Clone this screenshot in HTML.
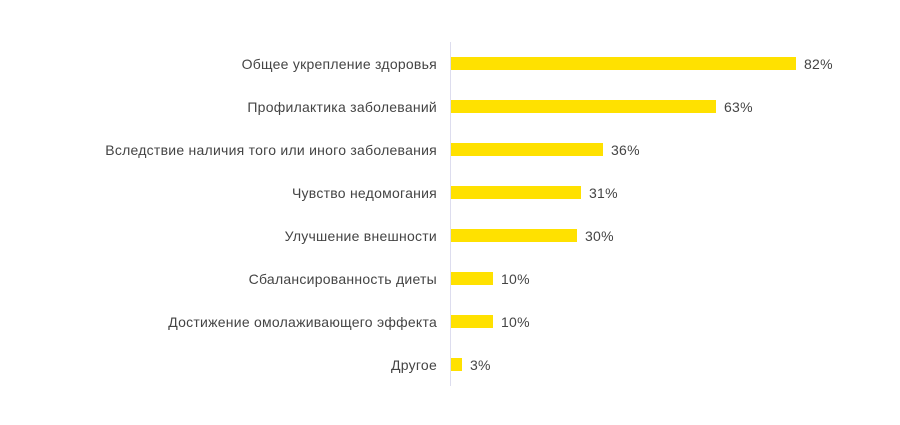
<!DOCTYPE html><html><head><meta charset="utf-8"><style>
body{margin:0;background:#fff;width:900px;height:420px;overflow:hidden;font-family:"Liberation Sans",sans-serif}
</style></head><body>
<svg width="900" height="420" xmlns="http://www.w3.org/2000/svg" font-family="Liberation Sans, sans-serif" font-size="14" letter-spacing="0.25" fill="#444">
<line x1="450.5" y1="42" x2="450.5" y2="386" stroke="#dde" stroke-width="1"/>
<g fill="#FFE100">
<rect x="451" y="57" width="345" height="13"/>
<rect x="451" y="100" width="265" height="13"/>
<rect x="451" y="143" width="152" height="13"/>
<rect x="451" y="186" width="130" height="13"/>
<rect x="451" y="229" width="126" height="13"/>
<rect x="451" y="272" width="42" height="13"/>
<rect x="451" y="315" width="42" height="13"/>
<rect x="451" y="358" width="11" height="13"/>
</g>
<g text-anchor="end">
<text x="437" y="69">Общее укрепление здоровья</text>
<text x="437" y="112">Профилактика заболеваний</text>
<text x="437" y="155">Вследствие наличия того или иного заболевания</text>
<text x="437" y="198">Чувство недомогания</text>
<text x="437" y="241">Улучшение внешности</text>
<text x="437" y="284">Сбалансированность диеты</text>
<text x="437" y="327">Достижение омолаживающего эффекта</text>
<text x="437" y="370">Другое</text>
</g>
<text x="804" y="69">82%</text>
<text x="724" y="112">63%</text>
<text x="611" y="155">36%</text>
<text x="589" y="198">31%</text>
<text x="585" y="241">30%</text>
<text x="501" y="284">10%</text>
<text x="501" y="327">10%</text>
<text x="470" y="370">3%</text>
</svg>
</body></html>
